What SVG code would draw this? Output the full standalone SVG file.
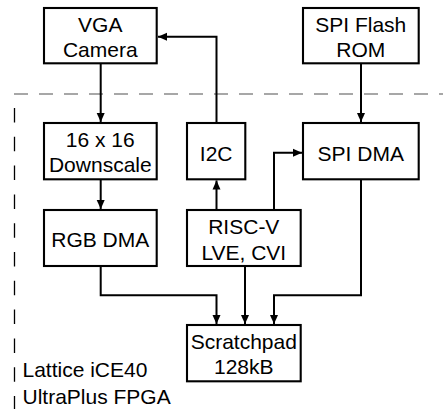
<svg xmlns="http://www.w3.org/2000/svg" width="443" height="409" viewBox="0 0 443 409">
<style>
.box{fill:#fff;stroke:#000;stroke-width:2.1}
.t{font-family:"Liberation Sans",Arial,Helvetica,sans-serif;font-size:21px;fill:#000;text-anchor:middle}
.lbl{font-family:"Liberation Sans",Arial,Helvetica,sans-serif;font-size:21px;fill:#000}
.c{fill:none;stroke:#000;stroke-width:2;marker-end:url(#ah)}
</style>
<defs>
<marker id="ah" markerUnits="userSpaceOnUse" markerWidth="10" markerHeight="9" refX="9" refY="4.5" orient="auto">
<path d="M0,0.5 L9,4.5 L0,8.5 z" fill="#000"/>
</marker>
</defs>
<rect width="443" height="409" fill="#fff"/>
<g id="boundary">
<line x1="14" y1="94" x2="443" y2="94" stroke="#8a8a8a" stroke-width="1.5" stroke-dasharray="14 11"/>
<line x1="14.5" y1="108" x2="14.5" y2="409" stroke="#000" stroke-width="1.3" stroke-dasharray="14.5 14.3"/>
</g>
<g id="connectors">
<path class="c" d="M100.7,64 V122"/>
<path class="c" d="M216.5,123 V36.7 H158"/>
<path class="c" d="M361,64 V122"/>
<path class="c" d="M274,210 V152.7 H302"/>
<path class="c" d="M216.5,210 V180.5"/>
<path class="c" d="M100.7,180 V209"/>
<path class="c" d="M100.7,266 V295.3 H216.5 V324"/>
<path class="c" d="M245,266 V324"/>
<path class="c" d="M361,180 V295.3 H274 V324"/>
</g>
<g id="vga">
<rect class="box" x="44" y="8" width="112.7" height="55.3"/>
<text class="t" x="100.3" y="31.5">VGA</text>
<text class="t" x="100.3" y="57">Camera</text>
</g>
<g id="spiflash">
<rect class="box" x="303" y="8" width="115.7" height="55.3"/>
<text class="t" x="360.8" y="32">SPI Flash</text>
<text class="t" x="360.8" y="57">ROM</text>
</g>
<g id="downscale">
<rect class="box" x="44" y="123" width="112.7" height="56.3"/>
<text class="t" x="100.3" y="147">16 x 16</text>
<text class="t" x="100.3" y="172">Downscale</text>
</g>
<g id="i2c">
<rect class="box" x="187" y="123" width="58.3" height="56.3"/>
<text class="t" x="216.2" y="160.5">I2C</text>
</g>
<g id="spidma">
<rect class="box" x="303" y="123" width="115.7" height="56.3"/>
<text class="t" x="360.8" y="160.5">SPI DMA</text>
</g>
<g id="rgbdma">
<rect class="box" x="44" y="210" width="112.7" height="56"/>
<text class="t" x="100.3" y="246.7">RGB DMA</text>
</g>
<g id="riscv">
<rect class="box" x="187" y="210" width="113.7" height="56"/>
<text class="t" x="243.8" y="233.5">RISC-V</text>
<text class="t" x="243.8" y="259.8">LVE, CVI</text>
</g>
<g id="scratchpad">
<rect class="box" x="187" y="325" width="113.7" height="56.3"/>
<text class="t" x="243.8" y="349">Scratchpad</text>
<text class="t" x="243.8" y="374.3">128kB</text>
</g>
<g id="label">
<text class="lbl" x="22.5" y="377.3">Lattice iCE40</text>
<text class="lbl" x="22.5" y="403.5">UltraPlus FPGA</text>
</g>
</svg>
